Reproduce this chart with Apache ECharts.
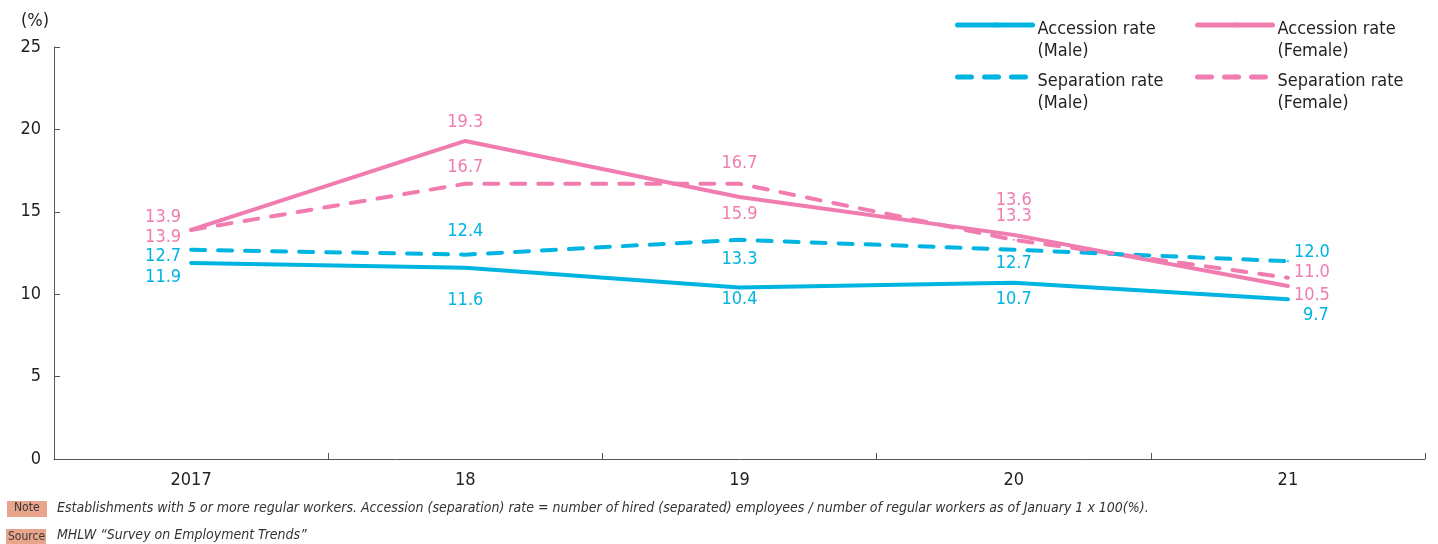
<!DOCTYPE html>
<html>
<head>
<meta charset="utf-8">
<script src="https://cdn.jsdelivr.net/npm/echarts@6/dist/echarts.min.js"></script>
<style>
  html, body { margin: 0; padding: 0; background: #fff; }
  #chart { width: 1438px; height: 544px; }
</style>
</head>
<body>
<div id="chart"></div>
<script>
const categories = ["2017", "18", "19", "20", "21"];
const accessionMale = [11.9, 11.6, 10.4, 10.7, 9.7];
const separationMale = [12.7, 12.4, 13.3, 12.7, 12.0];
const accessionFemale = [13.9, 19.3, 15.9, 13.6, 10.5];
const separationFemale = [13.9, 16.7, 16.7, 13.3, 11.0];
const yTicks = [0, 5, 10, 15, 20, 25];

// label offsets from each point (label centre - point), px
const offsets = {
  accM: [[-28, 14], [0, 32], [0, 12], [0, 17], [28, 16]],
  sepM: [[-28, 7], [0, -23], [0, 20], [0, 14], [24, -9]],
  accF: [[-28, -13], [0, -19], [0, 17], [0, -35], [24, 9]],
  sepF: [[-28, 7], [0, -16], [0, -20], [0, -23], [24, -5]]
};

const BLUE = "#00b4e1";
const PINK = "#f07cb0";
const FONT = "'Liberation Sans Narrow', 'DejaVu Sans Condensed', sans-serif";
const TXT = "#231f20";

function makeSeries(name, values, color, dashed, offs) {
  return {
    name: name,
    type: "line",
    data: values.map((v, i) => ({
      value: v,
      label: { offset: offs[i] }
    })),
    symbol: "circle",
    symbolSize: 2,
    showSymbol: true,
    itemStyle: { color: color },
    lineStyle: {
      color: color,
      width: 4,
      type: dashed ? [14, 13] : "solid",
      cap: "round",
      join: "round"
    },
    label: {
      show: true,
      position: "inside",
      color: color,
      fontSize: 18,
      fontFamily: FONT,
      formatter: p => p.value.toFixed(1)
    },
    emphasis: { disabled: true },
    z: dashed ? 3 : 2
  };
}

const legendCommon = {
  orient: "vertical",
  top: -6,
  padding: 0,
  itemWidth: 75,
  itemHeight: 6,
  itemGap: -14,
  selectedMode: false,
  lineStyle: { width: 5 },
  // blank first line pushes the text down so the icon sits on the first line
  formatter: name => "{s|}\n" + name.split("\n").map(t => "{t|" + t + "}").join("\n"),
  textStyle: {
    fontSize: 18,
    fontFamily: FONT,
    color: TXT,
    rich: {
      s: { lineHeight: 30, fontSize: 18, fontFamily: FONT },
      t: { lineHeight: 22, fontSize: 18, fontFamily: FONT, color: TXT }
    }
  }
};

const chart = echarts.init(document.getElementById("chart"));
chart.setOption({
  animation: false,
  grid: { left: 54, right: 13, top: 47, bottom: 85, containLabel: false },
  legend: [
    Object.assign({ left: 955, data: ["Accession rate\n(Male)", "Separation rate\n(Male)"] }, legendCommon),
    Object.assign({ left: 1195, data: ["Accession rate\n(Female)", "Separation rate\n(Female)"] }, legendCommon)
  ],
  xAxis: {
    type: "category",
    data: categories,
    boundaryGap: true,
    axisLine: { lineStyle: { color: "#555", width: 1 } },
    axisTick: { show: true, inside: true, length: 6, lineStyle: { color: "#555" } },
    axisLabel: { color: TXT, fontSize: 18, fontFamily: FONT, margin: 12 }
  },
  yAxis: {
    type: "value",
    min: yTicks[0],
    max: yTicks[yTicks.length - 1],
    interval: 5,
    splitLine: { show: false },
    axisLine: { show: true, lineStyle: { color: "#555", width: 1 } },
    axisTick: { show: true, inside: true, length: 6, lineStyle: { color: "#555" } },
    axisLabel: { color: TXT, fontSize: 18, fontFamily: FONT, margin: 13 }
  },
  series: [
    makeSeries("Accession rate\n(Male)", accessionMale, BLUE, false, offsets.accM),
    makeSeries("Separation rate\n(Male)", separationMale, BLUE, true, offsets.sepM),
    makeSeries("Accession rate\n(Female)", accessionFemale, PINK, false, offsets.accF),
    makeSeries("Separation rate\n(Female)", separationFemale, PINK, true, offsets.sepF)
  ],
  graphic: [
    { type: "text", left: 21, top: 12, style: { text: "(%)", font: "18px " + FONT, fill: TXT } },
    { type: "rect", left: 7, top: 501, shape: { width: 40, height: 16 }, style: { fill: "#e9a58b" } },
    { type: "text", left: 14, top: 502, style: { text: "Note", font: "12px " + FONT, fill: "#3a3a3a" } },
    { type: "text", left: 57, top: 501, style: { text: "Establishments with 5 or more regular workers. Accession (separation) rate = number of hired (separated) employees / number of regular workers as of January 1 x 100(%).", font: "italic 14px " + FONT, fill: "#333" } },
    { type: "rect", left: 6, top: 529, shape: { width: 40, height: 16 }, style: { fill: "#e9a58b" } },
    { type: "text", left: 8, top: 531, style: { text: "Source", font: "12px " + FONT, fill: "#3a3a3a" } },
    { type: "text", left: 57, top: 528, style: { text: "MHLW \u201cSurvey on Employment Trends\u201d", font: "italic 14px " + FONT, fill: "#333" } }
  ]
});
</script>
</body>
</html>
